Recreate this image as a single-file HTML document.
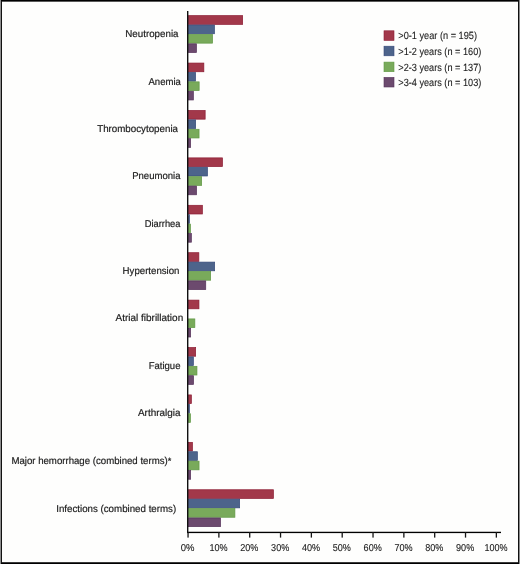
<!DOCTYPE html><html><head><meta charset="utf-8"><style>html,body{margin:0;padding:0;background:#fff}svg{display:block;will-change:transform}text{text-rendering:geometricPrecision;font-family:"Liberation Sans",sans-serif;fill:#1a1a1a;stroke:#1a1a1a;stroke-width:0.18px}.t2{stroke-width:0.1px}</style></head><body>
<svg width="520" height="564" viewBox="0 0 520 564">
<rect x="0" y="0" width="520" height="564" fill="#fefefd"/>
<rect x="188.35" y="15.65" width="54.30" height="8.70" fill="#a2384a" stroke="#8c1b32" stroke-width="0.7"/>
<rect x="188.35" y="25.05" width="26.10" height="8.70" fill="#4d648b" stroke="#36497a" stroke-width="0.7"/>
<rect x="188.35" y="34.45" width="24.20" height="8.70" fill="#79aa5b" stroke="#5f9843" stroke-width="0.7"/>
<rect x="188.35" y="43.85" width="8.10" height="8.70" fill="#6c4a6e" stroke="#56325b" stroke-width="0.7"/>
<rect x="188.35" y="63.06" width="15.50" height="8.70" fill="#a2384a" stroke="#8c1b32" stroke-width="0.7"/>
<rect x="188.35" y="72.46" width="7.20" height="8.70" fill="#4d648b" stroke="#36497a" stroke-width="0.7"/>
<rect x="188.35" y="81.86" width="10.80" height="8.70" fill="#79aa5b" stroke="#5f9843" stroke-width="0.7"/>
<rect x="188.35" y="91.26" width="5.00" height="8.70" fill="#6c4a6e" stroke="#56325b" stroke-width="0.7"/>
<rect x="188.35" y="110.47" width="16.80" height="8.70" fill="#a2384a" stroke="#8c1b32" stroke-width="0.7"/>
<rect x="188.35" y="119.87" width="7.30" height="8.70" fill="#4d648b" stroke="#36497a" stroke-width="0.7"/>
<rect x="188.35" y="129.27" width="10.70" height="8.70" fill="#79aa5b" stroke="#5f9843" stroke-width="0.7"/>
<rect x="188.35" y="138.67" width="2.30" height="8.70" fill="#6c4a6e" stroke="#56325b" stroke-width="0.7"/>
<rect x="188.35" y="157.88" width="34.10" height="8.70" fill="#a2384a" stroke="#8c1b32" stroke-width="0.7"/>
<rect x="188.35" y="167.28" width="19.10" height="8.70" fill="#4d648b" stroke="#36497a" stroke-width="0.7"/>
<rect x="188.35" y="176.68" width="13.30" height="8.70" fill="#79aa5b" stroke="#5f9843" stroke-width="0.7"/>
<rect x="188.35" y="186.08" width="8.20" height="8.70" fill="#6c4a6e" stroke="#56325b" stroke-width="0.7"/>
<rect x="188.35" y="205.29" width="14.00" height="8.70" fill="#a2384a" stroke="#8c1b32" stroke-width="0.7"/>
<rect x="188.35" y="214.69" width="1.10" height="8.70" fill="#4d648b" stroke="#36497a" stroke-width="0.7"/>
<rect x="188.35" y="224.09" width="2.10" height="8.70" fill="#79aa5b" stroke="#5f9843" stroke-width="0.7"/>
<rect x="188.35" y="233.49" width="3.00" height="8.70" fill="#6c4a6e" stroke="#56325b" stroke-width="0.7"/>
<rect x="188.35" y="252.70" width="10.50" height="8.70" fill="#a2384a" stroke="#8c1b32" stroke-width="0.7"/>
<rect x="188.35" y="262.10" width="26.30" height="8.70" fill="#4d648b" stroke="#36497a" stroke-width="0.7"/>
<rect x="188.35" y="271.50" width="22.30" height="8.70" fill="#79aa5b" stroke="#5f9843" stroke-width="0.7"/>
<rect x="188.35" y="280.90" width="17.40" height="8.70" fill="#6c4a6e" stroke="#56325b" stroke-width="0.7"/>
<rect x="188.35" y="300.11" width="10.60" height="8.70" fill="#a2384a" stroke="#8c1b32" stroke-width="0.7"/>
<rect x="188.35" y="318.91" width="6.50" height="8.70" fill="#79aa5b" stroke="#5f9843" stroke-width="0.7"/>
<rect x="188.35" y="328.31" width="2.30" height="8.70" fill="#6c4a6e" stroke="#56325b" stroke-width="0.7"/>
<rect x="188.35" y="347.52" width="7.30" height="8.70" fill="#a2384a" stroke="#8c1b32" stroke-width="0.7"/>
<rect x="188.35" y="356.92" width="5.00" height="8.70" fill="#4d648b" stroke="#36497a" stroke-width="0.7"/>
<rect x="188.35" y="366.32" width="8.60" height="8.70" fill="#79aa5b" stroke="#5f9843" stroke-width="0.7"/>
<rect x="188.35" y="375.72" width="5.20" height="8.70" fill="#6c4a6e" stroke="#56325b" stroke-width="0.7"/>
<rect x="188.35" y="394.93" width="3.00" height="8.70" fill="#a2384a" stroke="#8c1b32" stroke-width="0.7"/>
<rect x="188.35" y="404.33" width="1.10" height="8.70" fill="#4d648b" stroke="#36497a" stroke-width="0.7"/>
<rect x="188.35" y="413.73" width="2.10" height="8.70" fill="#79aa5b" stroke="#5f9843" stroke-width="0.7"/>
<rect x="188.35" y="442.34" width="4.10" height="8.70" fill="#a2384a" stroke="#8c1b32" stroke-width="0.7"/>
<rect x="188.35" y="451.74" width="9.00" height="8.70" fill="#4d648b" stroke="#36497a" stroke-width="0.7"/>
<rect x="188.35" y="461.14" width="10.70" height="8.70" fill="#79aa5b" stroke="#5f9843" stroke-width="0.7"/>
<rect x="188.35" y="470.54" width="2.30" height="8.70" fill="#6c4a6e" stroke="#56325b" stroke-width="0.7"/>
<rect x="188.35" y="489.75" width="85.05" height="8.70" fill="#a2384a" stroke="#8c1b32" stroke-width="0.7"/>
<rect x="188.35" y="499.15" width="51.30" height="8.70" fill="#4d648b" stroke="#36497a" stroke-width="0.7"/>
<rect x="188.35" y="508.55" width="46.55" height="8.70" fill="#79aa5b" stroke="#5f9843" stroke-width="0.7"/>
<rect x="188.35" y="517.95" width="32.20" height="8.70" fill="#6c4a6e" stroke="#56325b" stroke-width="0.7"/>
<rect x="187" y="11" width="1.4" height="521.8" fill="#111"/>
<rect x="187" y="531.75" width="314" height="1.35" fill="#000"/>
<rect x="187.40" y="532" width="1.3" height="5.6" fill="#151515"/>
<rect x="218.23" y="532" width="1.3" height="5.6" fill="#151515"/>
<rect x="249.06" y="532" width="1.3" height="5.6" fill="#151515"/>
<rect x="279.89" y="532" width="1.3" height="5.6" fill="#151515"/>
<rect x="310.72" y="532" width="1.3" height="5.6" fill="#151515"/>
<rect x="341.55" y="532" width="1.3" height="5.6" fill="#151515"/>
<rect x="372.38" y="532" width="1.3" height="5.6" fill="#151515"/>
<rect x="403.21" y="532" width="1.3" height="5.6" fill="#151515"/>
<rect x="434.04" y="532" width="1.3" height="5.6" fill="#151515"/>
<rect x="464.87" y="532" width="1.3" height="5.6" fill="#151515"/>
<rect x="495.70" y="532" width="1.3" height="5.6" fill="#151515"/>
<text x="180.85" y="550.7" font-size="10.0" textLength="13.70" lengthAdjust="spacingAndGlyphs" class="t2">0%</text>
<text x="209.43" y="550.7" font-size="10.0" textLength="18.20" lengthAdjust="spacingAndGlyphs" class="t2">10%</text>
<text x="240.26" y="550.7" font-size="10.0" textLength="18.20" lengthAdjust="spacingAndGlyphs" class="t2">20%</text>
<text x="271.09" y="550.7" font-size="10.0" textLength="18.20" lengthAdjust="spacingAndGlyphs" class="t2">30%</text>
<text x="301.92" y="550.7" font-size="10.0" textLength="18.20" lengthAdjust="spacingAndGlyphs" class="t2">40%</text>
<text x="332.75" y="550.7" font-size="10.0" textLength="18.20" lengthAdjust="spacingAndGlyphs" class="t2">50%</text>
<text x="363.58" y="550.7" font-size="10.0" textLength="18.20" lengthAdjust="spacingAndGlyphs" class="t2">60%</text>
<text x="394.41" y="550.7" font-size="10.0" textLength="18.20" lengthAdjust="spacingAndGlyphs" class="t2">70%</text>
<text x="425.24" y="550.7" font-size="10.0" textLength="18.20" lengthAdjust="spacingAndGlyphs" class="t2">80%</text>
<text x="456.07" y="550.7" font-size="10.0" textLength="18.20" lengthAdjust="spacingAndGlyphs" class="t2">90%</text>
<text x="484.45" y="550.7" font-size="10.0" textLength="23.10" lengthAdjust="spacingAndGlyphs" class="t2">100%</text>
<text x="125.30" y="37.2" font-size="9.9" textLength="53.20" lengthAdjust="spacingAndGlyphs">Neutropenia</text>
<text x="148.50" y="84.7" font-size="9.9" textLength="32.40" lengthAdjust="spacingAndGlyphs">Anemia</text>
<text x="97.20" y="131.9" font-size="9.9" textLength="80.80" lengthAdjust="spacingAndGlyphs">Thrombocytopenia</text>
<text x="132.20" y="179.4" font-size="9.9" textLength="48.30" lengthAdjust="spacingAndGlyphs">Pneumonia</text>
<text x="144.70" y="226.9" font-size="9.9" textLength="35.80" lengthAdjust="spacingAndGlyphs">Diarrhea</text>
<text x="122.60" y="274.3" font-size="9.9" textLength="56.90" lengthAdjust="spacingAndGlyphs">Hypertension</text>
<text x="115.50" y="321.3" font-size="9.9" textLength="67.70" lengthAdjust="spacingAndGlyphs">Atrial fibrillation</text>
<text x="148.70" y="368.9" font-size="9.9" textLength="31.80" lengthAdjust="spacingAndGlyphs">Fatigue</text>
<text x="138.00" y="416.3" font-size="9.9" textLength="42.50" lengthAdjust="spacingAndGlyphs">Arthralgia</text>
<text x="11.40" y="464.3" font-size="9.9" textLength="156.30" lengthAdjust="spacingAndGlyphs">Major hemorrhage (combined terms)</text>
<text x="56.20" y="511.7" font-size="9.9" textLength="120.00" lengthAdjust="spacingAndGlyphs">Infections (combined terms)</text>
<text x="167.8" y="463.8" font-size="9.2">*</text>
<rect x="384.0" y="30.8" width="10" height="9.6" fill="#a2384a" stroke="#8c1b32" stroke-width="0.6"/>
<text x="398.3" y="39.40" font-size="10.4" class="t2" textLength="78.70" lengthAdjust="spacingAndGlyphs">&gt;0-1 year (n = 195)</text>
<rect x="384.0" y="46.2" width="10" height="9.6" fill="#4d648b" stroke="#36497a" stroke-width="0.6"/>
<text x="398.3" y="54.80" font-size="10.4" class="t2" textLength="83.00" lengthAdjust="spacingAndGlyphs">&gt;1-2 years (n = 160)</text>
<rect x="384.0" y="62.1" width="10" height="9.6" fill="#79aa5b" stroke="#5f9843" stroke-width="0.6"/>
<text x="398.3" y="70.70" font-size="10.4" class="t2" textLength="83.00" lengthAdjust="spacingAndGlyphs">&gt;2-3 years (n = 137)</text>
<rect x="384.0" y="77.4" width="10" height="9.6" fill="#6c4a6e" stroke="#56325b" stroke-width="0.6"/>
<text x="398.3" y="86.00" font-size="10.4" class="t2" textLength="83.00" lengthAdjust="spacingAndGlyphs">&gt;3-4 years (n = 103)</text>
<rect x="0" y="0" width="1" height="564" fill="#8e8e8e"/>
<rect x="1" y="0" width="1" height="564" fill="#111"/>
<rect x="1" y="0" width="518" height="1" fill="#000"/>
<rect x="2" y="1" width="516" height="1" fill="#5a5a5a"/>
<rect x="518" y="0" width="1" height="564" fill="#111"/>
<rect x="519" y="0" width="1" height="564" fill="#8a8a8a"/>
<rect x="2" y="562" width="516" height="1" fill="#3a3a3a"/>
<rect x="1" y="563" width="518" height="1" fill="#000"/>
</svg></body></html>
